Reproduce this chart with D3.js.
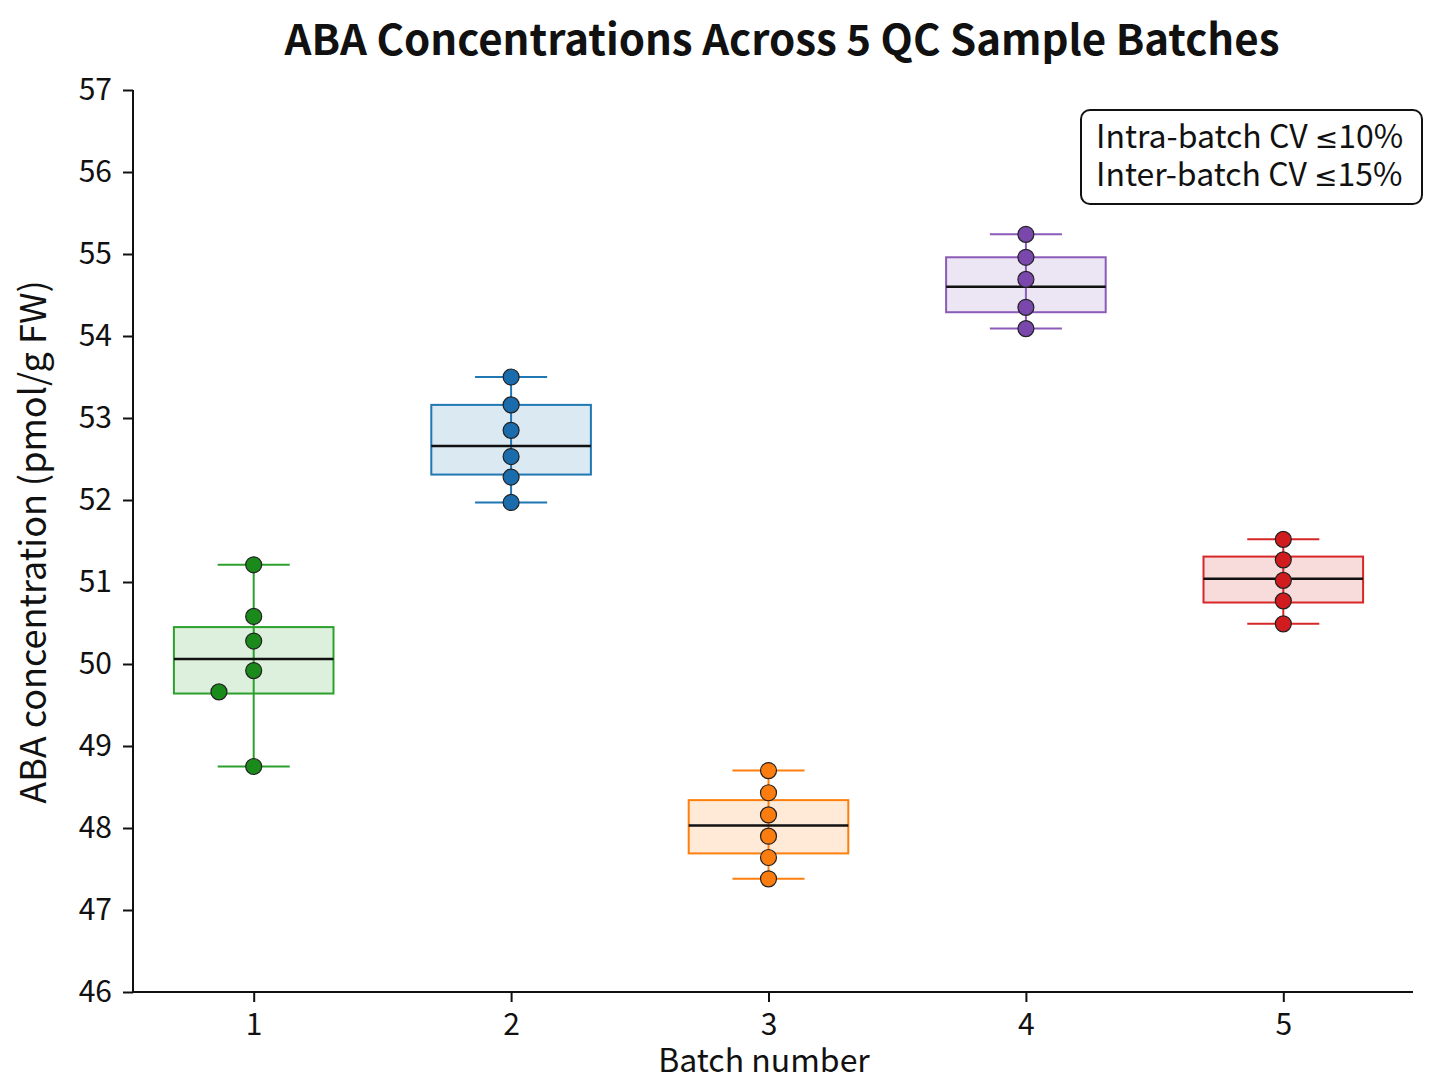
<!DOCTYPE html>
<html lang="en">
<head>
<meta charset="utf-8">
<title>ABA Concentrations Across 5 QC Sample Batches</title>
<script src="https://cdn.jsdelivr.net/npm/d3@7/dist/d3.min.js"></script>
<style>
    body { margin: 0; background: #fff; }
    svg { font-family: "Noto Sans CJK SC", "Noto Sans", sans-serif; }
    .axis path, .axis line { stroke: #111; stroke-width: 2px; }
    .axis text { font-family: "Noto Sans CJK SC", "Noto Sans", sans-serif; font-size: 30px; fill: #111; }
    .le { font-family: "DejaVu Sans", sans-serif; }
</style>
</head>
<body>
<svg></svg>
<script>
    // batches and the box statistics
    var batches = [1, 2, 3, 4, 5];
    var q1 =        [49.64, 52.31, 47.69, 54.29, 50.75];
    var medians =   [50.06, 52.66, 48.03, 54.60, 51.04];
    var q3 =        [50.45, 53.16, 48.34, 54.96, 51.31];
    var whiskLow =  [48.75, 51.97, 47.38, 54.09, 50.49];
    var whiskHigh = [51.21, 53.50, 48.70, 55.24, 51.52];
    // individual QC replicates per batch
    var samples = [
        [48.75, 49.66, 49.92, 50.28, 50.58, 51.21],
        [51.97, 52.28, 52.53, 52.85, 53.16, 53.50],
        [47.38, 47.64, 47.90, 48.16, 48.43, 48.70],
        [54.09, 54.35, 54.69, 54.96, 55.24],
        [50.49, 50.77, 51.02, 51.27, 51.52]
    ];
    // horizontal offset of each replicate (batch units)
    var jitter = [
        [0, -0.135, 0, 0, 0, 0],
        [0, 0, 0, 0, 0, 0],
        [0, 0, 0, 0, 0, 0],
        [0, 0, 0, 0, 0],
        [0, 0, 0, 0, 0]
    ];
    var yTicks = d3.range(46, 58, 1);
    var boxColors =   ["#2ca02c", "#1f77b4", "#ff7f0e", "#8a5cb8", "#d62728"];
    var pointColors = ["#1a8a1a", "#1a6cad", "#fb7d10", "#7a48ad", "#d01c1f"];
    var notes = [["Intra-batch CV ", "10%"], ["Inter-batch CV ", "15%"]];

    var width = 1448, height = 1086;
    var m = {left: 133, right: 1413, top: 90, bottom: 992};

    var svg = d3.select("svg").attr("width", width).attr("height", height);

    var x = d3.scaleLinear().domain([0.5, 5.5]).range([125, 1412]);
    var y = d3.scaleLinear().domain([46, 57]).range([m.bottom, m.top]);

    var boxW = 0.62, capW = 0.28;

    svg.append("g")
        .attr("class", "axis")
        .attr("transform", "translate(0," + m.bottom + ")")
        .call(d3.axisBottom(x).tickValues(batches).tickSize(10).tickPadding(12).tickFormat(d3.format("d")))
        .call(function (g) { g.select(".domain").attr("d", "M" + m.left + ",0H" + m.right); });

    svg.append("g")
        .attr("class", "axis")
        .attr("transform", "translate(" + m.left + ",0)")
        .call(d3.axisLeft(y).tickValues(yTicks).tickSize(10).tickPadding(11).tickFormat(d3.format("d")))
        .call(function (g) { g.select(".domain").attr("d", "M0," + m.bottom + "V" + m.top); });

    var groups = svg.selectAll(".batch")
        .data(batches)
        .enter().append("g")
        .attr("class", "batch");

    // whisker stems
    groups.append("line")
        .attr("x1", function (d) { return x(d); })
        .attr("x2", function (d) { return x(d); })
        .attr("y1", function (d, i) { return y(whiskLow[i]); })
        .attr("y2", function (d, i) { return y(whiskHigh[i]); })
        .attr("stroke", function (d, i) { return boxColors[i]; })
        .attr("stroke-width", 2);

    // caps
    [whiskLow, whiskHigh].forEach(function (arr) {
        groups.append("line")
            .attr("x1", function (d) { return x(d - capW / 2); })
            .attr("x2", function (d) { return x(d + capW / 2); })
            .attr("y1", function (d, i) { return y(arr[i]); })
            .attr("y2", function (d, i) { return y(arr[i]); })
            .attr("stroke", function (d, i) { return boxColors[i]; })
            .attr("stroke-width", 2);
    });

    // boxes
    groups.append("rect")
        .attr("x", function (d) { return x(d - boxW / 2); })
        .attr("width", function (d) { return x(d + boxW / 2) - x(d - boxW / 2); })
        .attr("y", function (d, i) { return y(q3[i]); })
        .attr("height", function (d, i) { return y(q1[i]) - y(q3[i]); })
        .attr("fill", function (d, i) { return boxColors[i]; })
        .attr("fill-opacity", 0.16)
        .attr("stroke", function (d, i) { return boxColors[i]; })
        .attr("stroke-width", 2);

    // medians
    groups.append("line")
        .attr("x1", function (d) { return x(d - boxW / 2); })
        .attr("x2", function (d) { return x(d + boxW / 2); })
        .attr("y1", function (d, i) { return y(medians[i]); })
        .attr("y2", function (d, i) { return y(medians[i]); })
        .attr("stroke", "#111")
        .attr("stroke-width", 2.5);

    // replicate points
    groups.each(function (d, i) {
        d3.select(this).selectAll("circle")
            .data(samples[i])
            .enter().append("circle")
            .attr("cx", function (v, j) { return x(d + jitter[i][j]); })
            .attr("cy", function (v) { return y(v); })
            .attr("r", 8)
            .attr("fill", pointColors[i])
            .attr("stroke", "#222")
            .attr("stroke-width", 1.2);
    });

    // title and axis labels
    svg.append("text")
        .attr("x", 782).attr("y", 55)
        .attr("text-anchor", "middle")
        .style("font-size", "42px").style("font-weight", "bold").style("fill", "#111")
        .text("ABA Concentrations Across 5 QC Sample Batches");

    svg.append("text")
        .attr("x", 764).attr("y", 1072)
        .attr("text-anchor", "middle")
        .style("font-size", "32px").style("fill", "#111")
        .text("Batch number");

    svg.append("text")
        .attr("transform", "translate(46,542) rotate(-90)")
        .attr("text-anchor", "middle")
        .style("font-size", "36px").style("fill", "#111")
        .text("ABA concentration (pmol/g FW)");

    // CV note box
    var note = svg.append("g").attr("transform", "translate(1081,110)");
    note.append("rect")
        .attr("width", 341).attr("height", 94)
        .attr("rx", 9)
        .attr("fill", "#fff").attr("stroke", "#111").attr("stroke-width", 2);
    var noteText = note.selectAll("text")
        .data(notes)
        .enter().append("text")
        .attr("x", 15)
        .attr("y", function (d, i) { return 38 + i * 38; })
        .style("font-size", "32px").style("fill", "#111");
    noteText.append("tspan").text(function (d) { return d[0]; });
    noteText.append("tspan").attr("class", "le").style("font-size", "28px").text("\u2264");
    noteText.append("tspan").text(function (d) { return d[1]; });
</script>
</body>
</html>
